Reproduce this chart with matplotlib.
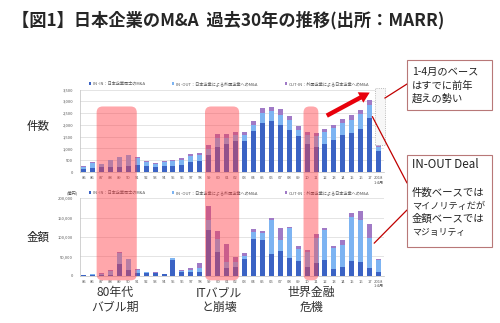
import matplotlib
matplotlib.use('Agg')
import matplotlib.pyplot as plt
import numpy as np
from matplotlib.patches import FancyBboxPatch, Rectangle, ConnectionPatch
from matplotlib.lines import Line2D

plt.rcParams['font.family'] = ['Noto Sans CJK JP', 'DejaVu Sans']

# ---------------- data ----------------
year_labels = ['85', '86', '87', '88', '89', '90', '91', '92', '93', '94', '95', '96', '97', '98', '99',
               '00', '01', '02', '03', '04', '05', '06', '07', '08', '09', '10', '11', '12', '13', '14',
               '15', '16', '17', '2018\n1-4月']

# 件数 (deal count)
count_in_in = [130, 170, 200, 200, 230, 270, 310, 240, 230, 240, 240, 280, 440, 480, 720,
               1050, 1180, 1320, 1320, 1750, 2100, 2150, 2010, 1800, 1510, 1190, 1060, 1190, 1370, 1560,
               1660, 1820, 2300, 870]
count_in_out = [90, 210, 130, 290, 390, 440, 280, 200, 130, 180, 210, 230, 220, 250, 260,
                380, 260, 255, 230, 260, 400, 420, 390, 390, 290, 380, 460, 510, 500, 540,
                560, 650, 540, 190]
count_out_in = [30, 30, 20, 20, 15, 20, 30, 40, 30, 60, 60, 100, 100, 90, 170,
                175, 180, 140, 140, 170, 220, 190, 290, 180, 140, 130, 150, 130, 140, 160,
                190, 160, 200, 90]

# 金額 (deal value, 億円)
value_in_in = [1000, 1000, 1500, 3000, 31000, 14000, 7000, 7000, 6500, 3500, 39700, 8600, 8600, 8600, 118000,
               62000, 20700, 23000, 42000, 94800, 92200, 56900, 64600, 44800, 38800, 22400, 33600, 39700, 16400, 21500,
               37900, 36200, 20700, 8600]
value_in_out = [600, 3800, 4000, 10000, 28000, 28000, 6500, 2500, 1500, 1200, 5500, 4500, 6000, 12100, 26000,
                32800, 15500, 11500, 9000, 19000, 17300, 87100, 27600, 77600, 30200, 39600, 64700, 78300, 54300, 57800,
                112900, 107800, 75800, 31900]
value_out_in = [200, 300, 500, 1600, 1000, 1000, 2900, 800, 600, 500, 1300, 1500, 4400, 11200, 37000,
                20700, 44800, 14500, 6800, 7400, 6000, 6000, 31800, 2600, 7700, 3500, 9400, 6000, 6000, 12900,
                10200, 24000, 37100, 2500]

series_names = ['IN -IN：日本企業同士のM&A',
                'IN -OUT：日本企業による外国企業へのM&A',
                'OUT-IN：外国企業による日本企業へのM&A']

# shaded periods (in bar-index units) and their labels
periods = [(1.46, 5.95), (13.58, 17.4), (24.6, 26.26)]
period_labels = ['80年代\nバブル期', 'ITバブル\nと崩壊', '世界金融\n危機']

count_ticks = [0, 500, 1000, 1500, 2000, 2500, 3000, 3500]
value_ticks = [0, 50000, 100000, 150000, 200000]

# ---------------- style ----------------
C_DARK = '#3B63C4'
C_LIGHT = '#7DB4F2'
C_PURP = '#A07AC6'
GRID = '#D9D9D9'
TXT = '#595959'

W, H = 500, 323
def fx(px): return px / W
def fy(py): return 1 - py / H

fig = plt.figure(figsize=(5, 3.23), dpi=100)
fig.patch.set_facecolor('white')

ax1 = fig.add_axes([fx(80), fy(172), (384 - 80) / W, (172 - 89.5) / H])
ax2 = fig.add_axes([fx(80), fy(275.7), (384 - 80) / W, (275.7 - 198.3) / H])

x = np.arange(len(year_labels))
bw = 0.56

def stacked(ax, a, b, c):
    a = np.array(a); b = np.array(b); c = np.array(c)
    h1 = ax.bar(x, a, bw, color=C_DARK, zorder=2)
    h2 = ax.bar(x, b, bw, bottom=a, color=C_LIGHT, zorder=2)
    h3 = ax.bar(x, c, bw, bottom=a + b, color=C_PURP, zorder=2)
    return [h1, h2, h3]

hs1 = stacked(ax1, count_in_in, count_in_out, count_out_in)
hs2 = stacked(ax2, value_in_in, value_in_out, value_out_in)

for ax, ticks in ((ax1, count_ticks), (ax2, value_ticks)):
    ax.set_xlim(-0.4, 33.6)
    ax.set_ylim(ticks[0], ticks[-1])
    ax.set_yticks(ticks)
    ax.set_yticklabels([f'{t:,}' for t in ticks])
    ax.set_xticks(x)
    ax.set_xticklabels(year_labels)
    ax.tick_params(axis='both', length=0, labelsize=3, colors=TXT)
    ax.tick_params(axis='y', pad=5)
    ax.tick_params(axis='x', pad=3)
    ax.yaxis.grid(True, color=GRID, lw=0.5, zorder=0)
    ax.set_axisbelow(True)
    for s in ('top', 'right'):
        ax.spines[s].set_visible(False)
    for s in ('left', 'bottom'):
        ax.spines[s].set_color('#BFBFBF')
        ax.spines[s].set_linewidth(0.5)
    ax.legend(hs1 if ax is ax1 else hs2, series_names, loc='lower center',
              bbox_to_anchor=(0.49, 1.0), ncol=3, fontsize=3, frameon=False,
              handlelength=0.6, handleheight=0.6, handletextpad=0.4,
              columnspacing=6.5, borderaxespad=0.4, labelcolor=TXT)

fig.text(fx(72), fy(193), '(億円)', fontsize=3, color=TXT, ha='center', va='center')

# ---------------- shaded periods ----------------
t1 = ax1.transData + fig.transFigure.inverted()
t2 = ax2.transData + fig.transFigure.inverted()
top_f = t1.transform((0, 2780))[1]
bot_f = t2.transform((0, -12000))[1]
for (a, b) in periods:
    x0 = t1.transform((a, 0))[0]
    x1 = t1.transform((b, 0))[0]
    p = FancyBboxPatch((x0, bot_f), x1 - x0, top_f - bot_f,
                       boxstyle='round,pad=0,rounding_size=0.012',
                       mutation_aspect=W / H,
                       transform=fig.transFigure, facecolor='#FF3C46',
                       alpha=0.45, edgecolor='none', zorder=5)
    fig.add_artist(p)

for (a, b), lab, cx in zip(periods, period_labels, [115, 219, 311]):
    fig.text(fx(cx), fy(300), lab, fontsize=8.6, color='#333333',
             ha='center', va='center', linespacing=1.15)

# ---------------- annotations ----------------
# dotted projection box over 2018
ax1.add_patch(Rectangle((32.55, 1153), 1.12, 2420, facecolor='#F7F7F7',
                        edgecolor='#A6A6A6', linestyle=':', lw=0.6,
                        clip_on=False, zorder=3))
# red arrow
ax1.annotate('', xy=(32.0, 3370), xytext=(27.2, 2390),
             arrowprops=dict(arrowstyle='simple,head_length=0.75,head_width=0.85,tail_width=0.32',
                             color='#E8000B', lw=0, shrinkA=0, shrinkB=0), zorder=6)

# text boxes
def tbox(x0, y0, x1, y1):
    r = Rectangle((fx(x0), fy(y1)), fx(x1) - fx(x0), (y1 - y0) / H,
                  transform=fig.transFigure, facecolor='white',
                  edgecolor='#B87878', lw=0.8, zorder=7)
    fig.add_artist(r)

tbox(407, 60, 492, 110)
for t, yy in zip(['1-4月のベース', 'はすでに前年', '超えの勢い'], [72, 86, 99]):
    fig.text(fx(412), fy(yy), t, fontsize=7.4, color='#222222', ha='left', va='center', zorder=8)

tbox(407, 155, 492, 247)
for t, yy, fs in zip(['IN-OUT Deal', '件数ベースでは', 'マイノリティだが', '金額ベースでは', 'マジョリティ'],
                     [165, 193, 206, 219, 232], [8.4, 7.5, 6.6, 7.5, 6.4]):
    fig.text(fx(412), fy(yy), t, fontsize=fs, color='#222222', ha='left', va='center', zorder=8)

LC = '#C00000'
fig.add_artist(Line2D([fx(407), fx(385)], [fy(84), fy(98)], color=LC, lw=0.9, zorder=6))
fig.add_artist(ConnectionPatch(xyA=(fx(407), fy(183)), coordsA=fig.transFigure,
                               xyB=(32.3, 2350), coordsB=ax1.transData,
                               color=LC, lw=0.9, zorder=6))
fig.add_artist(ConnectionPatch(xyA=(fx(407), fy(210)), coordsA=fig.transFigure,
                               xyB=(32.5, 84000), coordsB=ax2.transData,
                               color=LC, lw=0.9, zorder=6))

# side labels
fig.text(fx(38), fy(126), '件数', fontsize=8.3, color='#222222', ha='center', va='center')
fig.text(fx(38), fy(237), '金額', fontsize=8.3, color='#222222', ha='center', va='center')

# title
fig.text(fx(12), fy(20), '【図1】日本企業のM&A  過去30年の推移(出所：MARR)',
         fontsize=12.4, fontweight='bold', color='#262626', ha='left', va='center')

fig.savefig('out.png', dpi=100)
